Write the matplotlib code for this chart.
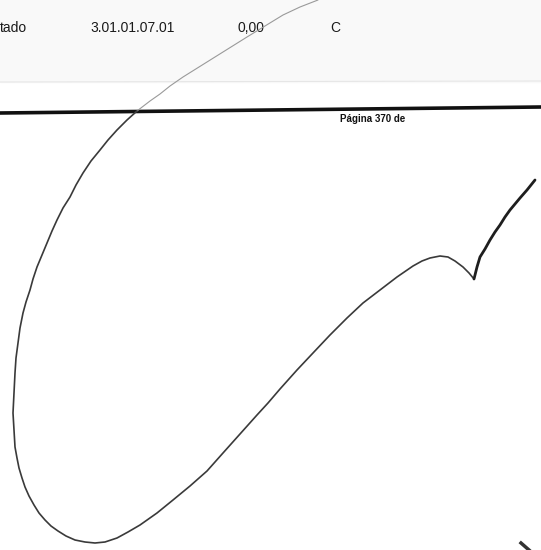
import matplotlib
matplotlib.use("Agg")
import matplotlib.pyplot as plt

# traced pen stroke, in page pixels (x to the right, y downwards)
faint_x = [318, 300, 283, 265, 247, 231, 215, 199, 183, 170, 160, 150, 137]
faint_y = [0, 7, 15, 26, 37, 47, 57, 67, 77, 86, 94, 101, 111]

main_x = [137, 127, 117, 108, 100, 91, 83, 76, 70, 63, 57, 52, 47, 42, 37, 33, 30, 26, 23,
          20, 18, 16, 15, 14, 13, 14, 15, 17, 19, 22, 25, 29, 34, 39, 45, 51, 58, 66, 75,
          85, 95, 105, 117, 128, 140, 157, 173, 190, 207, 223, 240, 257, 268, 280, 297,
          313, 330, 347, 363, 380, 397, 413, 422, 430, 440, 448, 455, 463, 469, 474]
main_y = [111, 120, 130, 140, 150, 161, 173, 185, 197, 208, 220, 231, 243, 255, 267, 279,
          290, 302, 313, 328, 343, 358, 373, 393, 413, 430, 447, 458, 468, 478, 487, 496,
          505, 513, 520, 526, 531, 536, 540, 542, 543, 542, 538, 532, 525, 513, 500, 486,
          471, 453, 434, 415, 403, 389, 370, 353, 335, 318, 303, 290, 277, 266, 261, 258,
          256, 257, 261, 267, 273, 279]

right_x = [474, 477, 480, 485, 490, 495, 500, 505, 510, 515, 520, 527, 535]
right_y = [279, 267, 257, 249, 240, 232, 225, 217, 210, 204, 198, 190, 180]

# small stroke at the bottom right corner
tick_x = [521, 529]
tick_y = [543, 550]

# printed page line (left / right ends)
rule_x = [0, 541]
rule_y = [113, 107]

header_texts = ["tado", "3.01.01.07.01", "0,00", "C"]
header_x = [0, 90, 238, 330]
footer_text = "Página 370 de"

fig = plt.figure(figsize=(5.41, 5.5), dpi=100)
ax = fig.add_axes([0, 0, 1, 1])
ax.set_xlim(0, 541)
ax.set_ylim(550, 0)
ax.axis("off")

# faint scan texture in the header
ax.axhspan(0, 82, color="#f9f9f9", zorder=0)
ax.plot([0, 541], [82, 81], color="#e6e6e6", lw=0.8, zorder=1)

ax.plot(rule_x, rule_y, color="#111111", lw=2.6, zorder=2)

for txt, x in zip(header_texts, header_x):
    ax.text(x, 28, txt, fontsize=10, family="Liberation Sans", color="#1a1a1a",
            ha="left", va="center", zorder=3)
ax.text(340, 119, footer_text, fontsize=7, family="Liberation Sans", weight="bold",
        color="#111111", ha="left", va="center", zorder=3)

ax.plot(faint_x, faint_y, color="#9a9a9a", lw=0.8, zorder=4,
        solid_capstyle="round", solid_joinstyle="round")
ax.plot(main_x, main_y, color="#3a3a3a", lw=1.2, zorder=4,
        solid_capstyle="round", solid_joinstyle="round")
ax.plot(right_x, right_y, color="#1e1e1e", lw=2.0, zorder=4,
        solid_capstyle="round", solid_joinstyle="round")
ax.plot(tick_x, tick_y, color="#333333", lw=2.5, zorder=4)

fig.savefig("out.png", dpi=100)
plt.close(fig)
